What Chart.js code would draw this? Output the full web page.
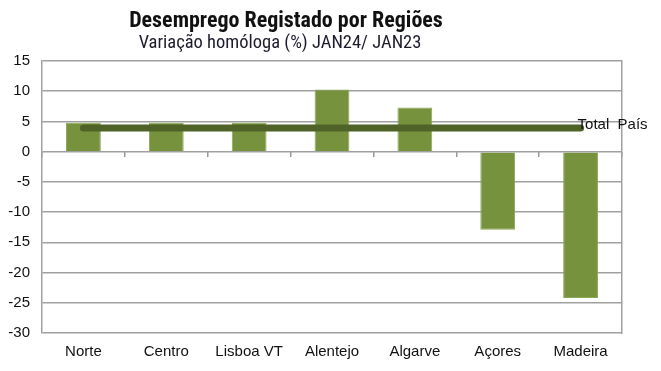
<!DOCTYPE html>
<html>
<head>
<meta charset="utf-8">
<script src="https://cdn.jsdelivr.net/npm/chart.js@4"></script>
<style>
  html, body { margin: 0; padding: 0; background: #fff; }
  #wrap { width: 661px; height: 371px; }
  .probe { position: absolute; left: -999px; top: 0; }
</style>
</head>
<body>
<div id="wrap"><canvas id="myChartRegioes" width="661" height="371"></canvas></div>
<span class="probe" style="font-family: 'Liberation Sans'">Aa</span>
<span class="probe" style="font-family: 'Liberation Sans Narrow'; font-weight: bold">Aa</span>
<span class="probe" style="font-family: 'Roboto Condensed'; font-weight: bold">Aa</span>
<script>
//? Données du graphique.

const regioes = ["Norte", "Centro", "Lisboa VT", "Alentejo", "Algarve", "Açores", "Madeira"];
const variacaoRegioes = [4.8, 4.8, 4.8, 10.3, 7.3, -12.9, -24.2];
const totalPais = [3.9, 3.9, 3.9, 3.9, 3.9, 3.9, 3.9];
const labelTotal = "Total  País";
const titulo = "Desemprego Registado por Regiões";
const subtitulo = "Variação homóloga (%) JAN24/ JAN23";
const ticksY = [15, 10, 5, 0, -5, -10, -15, -20, -25, -30];

const policeTexte = "'Liberation Sans', Arial, sans-serif";
const policeTitre = "'Liberation Sans Narrow', 'Roboto Condensed', 'DejaVu Sans Condensed', sans-serif";

//? -------------------------------------------------

//? Titres + étiquette de la ligne Total País.

const textesPlugin = {
  id: "textes",
  afterDraw(chart) {
    const ctx = chart.ctx;
    ctx.save();
    ctx.textAlign = "center";
    ctx.textBaseline = "alphabetic";
    ctx.fillStyle = "#111";
    ctx.font = "bold 22px " + policeTitre;
    ctx.fillText(titulo, 286, 27);
    ctx.fillStyle = "#1c1c2c";
    ctx.font = "18.5px " + policeTitre;
    ctx.fillText(subtitulo, 280, 48);

    const meta = chart.getDatasetMeta(1);
    const last = meta.data[meta.data.length - 1];
    ctx.textAlign = "left";
    ctx.textBaseline = "middle";
    ctx.fillStyle = "#111";
    ctx.font = "15px " + policeTexte;
    ctx.fillText(labelTotal, last.x - 3, last.y - 3);
    ctx.restore();
  },
};

//? -------------------------------------------------

//? Construction du graphique.

const construireGraphique = () => {
  const ctxRegioes = document.getElementById("myChartRegioes").getContext("2d");

  const data = {
    labels: regioes,
    datasets: [
      {
        type: "bar",
        label: "Variação",
        data: variacaoRegioes,
        backgroundColor: "#76923C",
        borderColor: "#8AA653",
        borderWidth: 1,
        barPercentage: 0.42,
        categoryPercentage: 1,
        order: 1,
      },
      {
        type: "line",
        label: labelTotal,
        data: totalPais,
        borderColor: "#4F6228",
        borderWidth: 7,
        borderCapStyle: "round",
        pointRadius: 0,
        fill: false,
        order: 0,
      },
    ],
  };

  const optionsRegioes = {
    responsive: false,
    animation: { duration: 0 },
    layout: { padding: { top: 61, right: 39, bottom: 10, left: 4 } },
    plugins: {
      legend: { display: false },
      tooltip: { enabled: false },
    },
    scales: {
      x: {
        offset: true,
        grid: { display: false, drawTicks: false },
        border: { display: false },
        ticks: {
          color: "#111",
          font: { family: policeTexte, size: 15 },
          padding: 10,
          maxRotation: 0,
          autoSkip: false,
        },
        afterFit: (axis) => {
          axis.height = 28;
        },
      },
      x2: {
        position: { y: 0 },
        offset: true,
        labels: regioes,
        ticks: { display: false },
        border: { display: false },
        grid: {
          offset: true,
          drawOnChartArea: false,
          drawTicks: true,
          tickLength: 5,
          color: "#999",
          lineWidth: 1.5,
        },
        afterFit: (axis) => {
          axis.height = 0;
        },
      },
      y: {
        min: -30,
        max: 15,
        afterBuildTicks: (axis) => {
          axis.ticks = ticksY.map((v) => ({ value: v }));
        },
        afterFit: (axis) => {
          axis.width = 38;
        },
        grid: { color: "#a0a0a0", lineWidth: 1.5, drawTicks: false },
        border: { color: "#a0a0a0", width: 1.5 },
        ticks: {
          color: "#111",
          font: { family: policeTexte, size: 15 },
          padding: 12,
        },
      },
      y2: {
        position: "right",
        min: -30,
        max: 15,
        grid: { display: false, drawTicks: false },
        border: { color: "#a0a0a0", width: 1.5 },
        ticks: { display: false },
        afterFit: (axis) => {
          axis.width = 0;
        },
      },
    },
  };

  new Chart(ctxRegioes, {
    type: "bar",
    data,
    options: optionsRegioes,
    plugins: [textesPlugin],
  });
};

Promise.all([
  document.fonts.load("15px 'Liberation Sans'"),
  document.fonts.load("bold 22px 'Liberation Sans Narrow'"),
  document.fonts.load("18px 'Liberation Sans Narrow'"),
])
  .catch(() => {})
  .then(construireGraphique);
</script>
</body>
</html>
